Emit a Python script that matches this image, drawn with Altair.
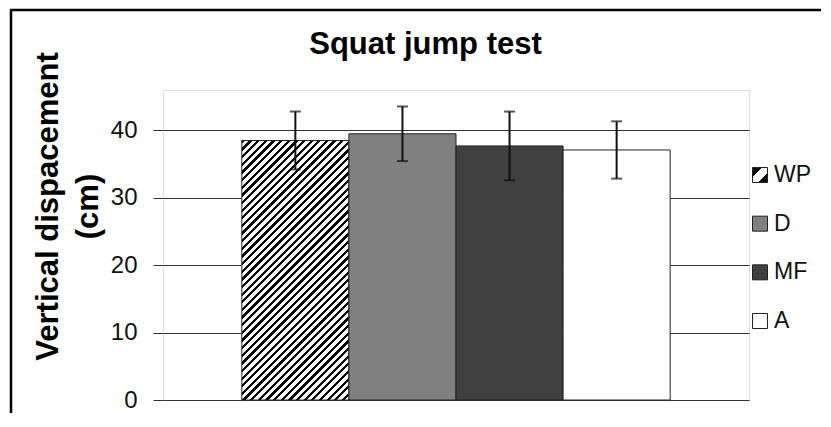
import altair as alt
import pandas as pd

# ---- data ----
groups = ["WP", "D", "MF", "A"]
means = [38.5, 39.5, 37.7, 37.1]
sds = [4.3, 4.05, 5.1, 4.25]
bar_colors = ["#ffffff", "#808080", "#404040", "#ffffff"]
y_ticks = [0, 10, 20, 30, 40]
y_max = 46

df = pd.DataFrame({"group": groups, "mean": means, "sd": sds})
df["lo"] = df["mean"] - df["sd"]
df["hi"] = df["mean"] + df["sd"]

# ---- layout / style ----
W, H = 586, 310
PAD_OUTER = 0.736
FONT = "Liberation Sans"
step = W / (len(groups) + 2 * PAD_OUTER)


def stripe_stops(n, black_frac):
    stops = []
    for i in range(n):
        a = i / n
        b = (i + black_frac) / n
        c = (i + 1) / n
        stops += [
            {"color": "#000000", "offset": a},
            {"color": "#000000", "offset": b},
            {"color": "#ffffff", "offset": b},
            {"color": "#ffffff", "offset": c},
        ]
    return stops


# diagonal hatch for the WP bar (45 degree stripes, aspect corrected)
bw = step
bh = means[0] / y_max * H
r = bw / bh
k = (r + 1) / (r * r + 1)
diag = (bw + bh) / 2 ** 0.5
n_str = int(round(diag / 5.4))
grad_bar = {
    "gradient": "linear",
    "x1": 0, "y1": 0, "x2": k * r, "y2": k,
    "stops": stripe_stops(n_str, 0.42),
}
grad_legend = {
    "gradient": "linear",
    "x1": 0, "y1": 0, "x2": 1, "y2": 1,
    "stops": [
        {"color": "#000000", "offset": 0},
        {"color": "#000000", "offset": 0.32},
        {"color": "#ffffff", "offset": 0.32},
        {"color": "#ffffff", "offset": 0.68},
        {"color": "#000000", "offset": 0.68},
        {"color": "#000000", "offset": 1},
    ],
}

x_enc = alt.X("group:N", sort=groups,
              scale=alt.Scale(paddingInner=0, paddingOuter=PAD_OUTER),
              axis=None)
y_scale = alt.Scale(domain=[0, y_max], nice=False, zero=True)
fill_scale = alt.Scale(domain=groups, range=bar_colors)


def fill_enc():
    return alt.condition(
        alt.datum.group == "WP", alt.value(grad_bar),
        alt.Fill("group:N", sort=groups, scale=fill_scale, legend=None),
    )


bars = alt.Chart(df).mark_bar(stroke="#222", strokeWidth=1).encode(
    x=x_enc,
    y=alt.Y("mean:Q", scale=y_scale, axis=alt.Axis(
        values=y_ticks, grid=True, gridColor="#333", gridWidth=1,
        domain=False, ticks=True, tickSize=10, tickColor="#333",
        labelFont=FONT, labelFontSize=24, labelColor="#111", labelPadding=16,
        title=["Vertical dispacement", "(cm)"], titleFont=FONT,
        titleFontSize=31, titleFontWeight="bold", titleColor="#000",
        titleLineHeight=40, titleX=-99, titleY=116,
    )),
    fill=fill_enc(),
)

err = alt.Chart(df).mark_rule(color="#111", strokeWidth=2).encode(
    x=x_enc, y=alt.Y("lo:Q", scale=y_scale, axis=None), y2="hi:Q")
cap_lo = alt.Chart(df).mark_tick(orient="horizontal", size=11, thickness=2,
                                 color="#111").encode(
    x=x_enc, y=alt.Y("lo:Q", scale=y_scale, axis=None))
cap_hi = alt.Chart(df).mark_tick(orient="horizontal", size=11, thickness=2,
                                 color="#111").encode(
    x=x_enc, y=alt.Y("hi:Q", scale=y_scale, axis=None))

# legend drawn from the same categories through a point scale
leg_y = alt.Y("group:N", sort=groups, axis=None,
              scale=alt.Scale(type="point", padding=0, range=[85, 231]))
leg_sym = alt.Chart(df).mark_square(size=225, stroke="#222", strokeWidth=1,
                                    opacity=1).encode(
    x=alt.value(W + 11), y=leg_y,
    fill=alt.condition(
        alt.datum.group == "WP", alt.value(grad_legend),
        alt.Fill("group:N", sort=groups, scale=fill_scale, legend=None)),
)
leg_txt = alt.Chart(df).mark_text(align="left", baseline="middle", font=FONT,
                                  fontSize=23, color="#111").encode(
    x=alt.value(W + 25), y=leg_y, text="group:N")

frame_df = pd.DataFrame({"k": [0]})
frame_left = alt.Chart(frame_df).mark_rule(color="#000", strokeWidth=2.5).encode(
    x=alt.value(-152), y=alt.value(-80), y2=alt.value(323))
frame_top = alt.Chart(frame_df).mark_rule(color="#000", strokeWidth=2.5).encode(
    x=alt.value(-153), x2=alt.value(658), y=alt.value(-80))

chart = alt.layer(
    bars, err, cap_lo, cap_hi, leg_sym, leg_txt, frame_left, frame_top
).resolve_scale(y="independent").properties(
    width=W, height=H, padding=0,
    title=alt.TitleParams("Squat jump test", font=FONT, fontSize=31,
                          fontWeight="bold", color="#000", offset=-76,
                          baseline="alphabetic", anchor="middle",
                          frame="bounds", dx=10),
).configure_view(stroke="#333", strokeWidth=1).configure(background="white")

chart.save("out.html", embed_options={"renderer": "svg", "actions": False})
